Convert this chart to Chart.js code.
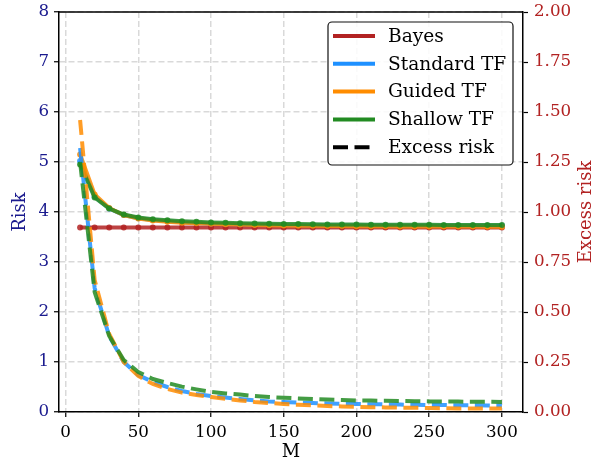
<!DOCTYPE html>
<html>
<head>
<meta charset="utf-8">
<script src="https://cdn.jsdelivr.net/npm/chart.js@4.4.1/dist/chart.umd.min.js"></script>
<style>
  html, body { margin: 0; padding: 0; background: #fff; }
  #wrap { width: 592px; height: 463px; position: relative; }
</style>
</head>
<body>
<div id="wrap"><canvas id="myChart"></canvas></div>
<script>
// sample sizes on the x axis
var M = [10, 20, 30, 40, 50, 60, 70, 80, 90, 100, 110, 120, 130, 140, 150,
         160, 170, 180, 190, 200, 210, 220, 230, 240, 250, 260, 270, 280, 290, 300];

// risk (left axis)
var bayesRisk = [3.69, 3.69, 3.69, 3.69, 3.69, 3.69, 3.69, 3.69, 3.69, 3.69,
                 3.69, 3.69, 3.69, 3.69, 3.69, 3.69, 3.69, 3.69, 3.69, 3.69,
                 3.69, 3.69, 3.69, 3.69, 3.69, 3.69, 3.69, 3.69, 3.69, 3.69];
var standardRisk = [5.02, 4.31, 4.07, 3.94, 3.875, 3.84, 3.815, 3.795, 3.78, 3.77,
                    3.762, 3.755, 3.748, 3.743, 3.74, 3.737, 3.735, 3.733, 3.731, 3.73,
                    3.729, 3.728, 3.727, 3.726, 3.725, 3.725, 3.724, 3.724, 3.723, 3.723];
var guidedRisk = [5.15, 4.35, 4.08, 3.94, 3.87, 3.83, 3.805, 3.787, 3.775, 3.765,
                  3.756, 3.748, 3.74, 3.735, 3.73, 3.726, 3.723, 3.72, 3.718, 3.716,
                  3.714, 3.713, 3.712, 3.711, 3.71, 3.709, 3.708, 3.708, 3.707, 3.707];
var shallowRisk = [4.95, 4.29, 4.07, 3.95, 3.89, 3.855, 3.835, 3.817, 3.803, 3.79,
                   3.783, 3.777, 3.77, 3.765, 3.761, 3.758, 3.755, 3.752, 3.75, 3.748,
                   3.747, 3.746, 3.745, 3.744, 3.743, 3.742, 3.742, 3.741, 3.741, 3.74];

// excess risk (right axis)
var standardExcess = [1.32, 0.62, 0.38, 0.25, 0.185, 0.15, 0.125, 0.105, 0.09, 0.08,
                      0.072, 0.065, 0.058, 0.053, 0.05, 0.047, 0.045, 0.043, 0.041, 0.04,
                      0.039, 0.038, 0.037, 0.036, 0.035, 0.035, 0.034, 0.034, 0.033, 0.033];
var guidedExcess = [1.46, 0.66, 0.39, 0.25, 0.18, 0.14, 0.115, 0.097, 0.085, 0.075,
                    0.066, 0.058, 0.05, 0.045, 0.04, 0.036, 0.033, 0.03, 0.028, 0.026,
                    0.024, 0.023, 0.022, 0.021, 0.02, 0.019, 0.018, 0.018, 0.017, 0.017];
var shallowExcess = [1.25, 0.6, 0.38, 0.26, 0.2, 0.165, 0.145, 0.127, 0.113, 0.1,
                     0.093, 0.087, 0.08, 0.075, 0.071, 0.068, 0.065, 0.062, 0.06, 0.058,
                     0.057, 0.056, 0.055, 0.054, 0.053, 0.052, 0.052, 0.051, 0.051, 0.05];

var xTicks = [0, 50, 100, 150, 200, 250, 300];
var legendLabels = ['Bayes', 'Standard TF', 'Guided TF', 'Shallow TF', 'Excess risk'];

var RED = 'rgba(178, 34, 34, 0.85)';
var BLUE = 'rgba(30, 144, 255, 0.85)';
var ORANGE = 'rgba(255, 140, 0, 0.85)';
var GREEN = 'rgba(34, 139, 34, 0.85)';
var NAVY = '#1a1a8e';
var FIREBRICK = '#b22222';
var SERIF = "'DejaVu Serif', serif";

function pts(ys) {
	return M.map(function(m, i) { return {x: m, y: ys[i]}; });
}

function solid(label, ys, color, order) {
	return {
		label: label, data: pts(ys), yAxisID: 'y',
		borderColor: color, backgroundColor: color,
		borderWidth: 4, pointRadius: 3, pointBorderWidth: 0,
		pointBackgroundColor: color, tension: 0, order: order
	};
}

function dashed(label, ys, color, order) {
	return {
		label: label, data: pts(ys), yAxisID: 'y1',
		borderColor: color, backgroundColor: color,
		borderWidth: 4, borderDash: [15, 6.5], pointRadius: 0,
		tension: 0, order: order
	};
}

// fixed axis sizes so the plot box lands where the original one is
function fixWidth(w) {
	return function(scale) {
		scale.width = w;
		scale.paddingTop = 0;
		scale.paddingBottom = 0;
	};
}

// legend box, top spine and right axis title
var extras = {
	id: 'extras',
	afterDraw: function(chart) {
		var ctx = chart.ctx;
		var a = chart.chartArea;
		ctx.save();
		ctx.strokeStyle = '#000';
		ctx.lineWidth = 1.5;
		ctx.beginPath();
		ctx.moveTo(a.left, a.top);
		ctx.lineTo(a.right, a.top);
		ctx.stroke();

		// legend
		var bx = 328, by = 22, bw = 185, bh = 143, r = 4;
		ctx.beginPath();
		ctx.moveTo(bx + r, by);
		ctx.arcTo(bx + bw, by, bx + bw, by + bh, r);
		ctx.arcTo(bx + bw, by + bh, bx, by + bh, r);
		ctx.arcTo(bx, by + bh, bx, by, r);
		ctx.arcTo(bx, by, bx + bw, by, r);
		ctx.closePath();
		ctx.fillStyle = 'rgba(255,255,255,0.85)';
		ctx.fill();
		ctx.strokeStyle = '#111';
		ctx.lineWidth = 1.2;
		ctx.stroke();

		var colors = ['#b22222', '#1e90ff', '#ff8c00', '#228b22', '#000'];
		ctx.font = '18.6px ' + SERIF;
		ctx.textBaseline = 'middle';
		ctx.textAlign = 'left';
		for (var i = 0; i < legendLabels.length; i++) {
			var yy = 36 + i * 27.8;
			ctx.beginPath();
			ctx.lineWidth = 4;
			ctx.strokeStyle = colors[i];
			ctx.setLineDash(i === 4 ? [15, 6.5] : []);
			ctx.moveTo(333, yy);
			ctx.lineTo(375, yy);
			ctx.stroke();
			ctx.setLineDash([]);
			ctx.fillStyle = '#000';
			ctx.fillText(legendLabels[i], 388, yy + 1);
		}

		// right axis title, bottom-to-top
		ctx.translate(586, (a.top + a.bottom) / 2);
		ctx.rotate(-Math.PI / 2);
		ctx.textAlign = 'center';
		ctx.fillStyle = FIREBRICK;
		ctx.font = '18px ' + SERIF;
		ctx.fillText('Excess risk', 0, 0);
		ctx.restore();
	}
};

var ctx = document.getElementById('myChart');
var myChart = new Chart(ctx, {
	type: 'line',
	data: {
		datasets: [
			solid('Bayes', bayesRisk, RED, 10),
			solid('Standard TF', standardRisk, BLUE, 9),
			solid('Guided TF', guidedRisk, ORANGE, 8),
			solid('Shallow TF', shallowRisk, GREEN, 7),
			dashed('Standard TF excess', standardExcess, BLUE, 6),
			dashed('Guided TF excess', guidedExcess, ORANGE, 5),
			dashed('Shallow TF excess', shallowExcess, GREEN, 4)
		]
	},
	plugins: [extras],
	options: {
		responsive: true,
		maintainAspectRatio: false,
		animation: false,
		layout: { padding: { top: 12, left: 0, right: 0, bottom: 0 } },
		plugins: {
			legend: { display: false },
			tooltip: { enabled: false }
		},
		scales: {
			x: {
				type: 'linear', position: 'bottom',
				min: -4.5, max: 314.5,
				afterBuildTicks: function(scale) {
					scale.ticks = xTicks.map(function(v) { return {value: v}; });
				},
				afterFit: function(scale) { scale.height = 51; },
				grid: { color: '#d9d9d9', lineWidth: 1.5, tickColor: '#000', tickLength: 5, tickWidth: 1.2, tickBorderDash: [] },
				border: { color: '#000', width: 1.5, dash: [6, 3] },
				ticks: { color: '#000', font: { family: SERIF, size: 16.7 }, padding: 6, maxRotation: 0 },
				title: { display: true, text: 'M', color: '#000', font: { family: SERIF, size: 18 }, padding: { top: 0, bottom: 0 } }
			},
			y: {
				position: 'left', min: 0, max: 8,
				afterFit: fixWidth(59),
				grid: { color: '#d9d9d9', lineWidth: 1.5, tickColor: '#000', tickLength: 5, tickWidth: 1.2, tickBorderDash: [] },
				border: { color: '#000', width: 1.5, dash: [6, 3] },
				ticks: { stepSize: 1, color: NAVY, font: { family: SERIF, size: 16.7 }, padding: 5 },
				title: { display: true, text: 'Risk', color: NAVY, font: { family: SERIF, size: 18 }, padding: { top: 10, bottom: 0 } }
			},
			y1: {
				position: 'right', min: 0, max: 2,
				afterFit: fixWidth(69),
				grid: { drawOnChartArea: false, tickColor: '#000', tickLength: 5, tickWidth: 1.2 },
				border: { color: '#000', width: 1.5 },
				ticks: {
					stepSize: 0.25, color: FIREBRICK, font: { family: SERIF, size: 16.7 }, padding: 6,
					callback: function(v) { return v.toFixed(2); }
				}
			}
		}
	}
});
</script>
</body>
</html>
